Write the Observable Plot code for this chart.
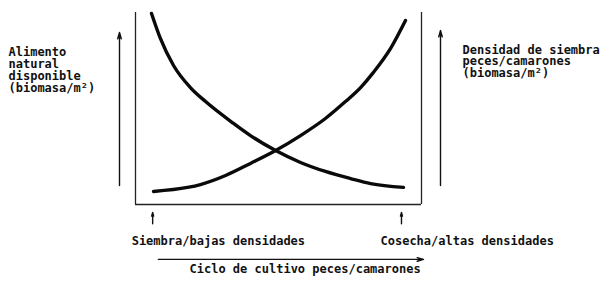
<!DOCTYPE html>
<html><head><meta charset="utf-8">
<script src="https://cdn.jsdelivr.net/npm/d3@7"></script>
<script src="https://cdn.jsdelivr.net/npm/@observablehq/plot@0.6"></script>
<style>
html,body{margin:0;padding:0;background:#fff;}
#chart svg{display:block;}
</style></head><body><div id="chart"></div>
<script>
// Natural food available (decreasing) along the culture cycle
const foodX = [5.6, 8.7, 13.3, 19.2, 24.5, 34.3, 40.2, 49.0, 57.7, 66.4, 75.2, 82.2, 93.7];
const foodY = [99.5, 86.5, 72.4, 60.9, 53.6, 42.2, 35.9, 28.1, 21.9, 17.2, 13.5, 10.9, 8.9];
// Stocking density of fish/shrimp (increasing)
const densX = [6.3, 18.2, 22.7, 31.5, 40.2, 49.0, 57.7, 66.4, 73.4, 78.7, 83.2, 89.2, 94.4];
const densY = [6.8, 8.9, 10.4, 15.1, 21.4, 28.1, 35.9, 44.8, 53.6, 60.9, 68.8, 81.3, 95.8];

const leftLabel = ["Alimento", "natural", "disponible", "(biomasa/m²)"];
const rightLabel = ["Densidad de siembra", "peces/camarones", "(biomasa/m²)"];
const stages = ["Siembra/bajas densidades", "Cosecha/altas densidades"];
const stageX = [6, 93];
const xLabel = "Ciclo de cultivo peces/camarones";

const food = foodX.map((x, i) => ({x, y: foodY[i]}));
const dens = densX.map((x, i) => ({x, y: densY[i]}));

const font = {fontFamily: "DejaVu Sans Mono", fontWeight: "bold", fontSize: 12, fill: "#111"};
const arrowStyle = {stroke: "#111", strokeWidth: 1.4, headLength: 7, headAngle: 32};

const chart = Plot.plot({
  width: 600,
  height: 292,
  marginLeft: 135,
  marginRight: 179,
  marginTop: 12,
  marginBottom: 88,
  x: {domain: [0, 100], axis: null},
  y: {domain: [0, 100], axis: null},
  style: {fontFamily: "DejaVu Sans Mono", background: "#fff"},
  marks: [
    Plot.ruleX([0, 100], {y1: 0, y2: 100, stroke: "#222", strokeWidth: 1.3}),
    Plot.ruleY([0], {x1: 0, x2: 100, stroke: "#222", strokeWidth: 1.3}),
    Plot.line(food, {x: "x", y: "y", curve: "monotone-x", stroke: "#0a0a0a", strokeWidth: 3.4, strokeLinecap: "round"}),
    Plot.line(dens, {x: "x", y: "y", curve: "monotone-x", stroke: "#0a0a0a", strokeWidth: 3.4, strokeLinecap: "round"}),
    // vertical axis arrows
    Plot.arrow([leftLabel], {x1: 0, x2: 0, y1: 9.9, y2: 89.6, dx: -16, ...arrowStyle}),
    Plot.arrow([rightLabel], {x1: 100, x2: 100, y1: 9.9, y2: 90.6, dx: 19, ...arrowStyle}),
    // stage arrows
    Plot.arrow(stageX, {x1: d => d, x2: d => d, y1: -10, y2: -4.2, ...arrowStyle, headLength: 5}),
    // cycle arrow
    Plot.arrow([xLabel], {x1: 8, x2: 100.7, y1: -28.6, y2: -28.6, ...arrowStyle}),
    // labels
    Plot.text([leftLabel.join("\n")], {text: d => d, frameAnchor: "top-left", dx: -127, dy: 57.5, textAnchor: "start", lineAnchor: "middle", lineHeight: 1.0, ...font}),
    Plot.text([rightLabel.join("\n")], {text: d => d, frameAnchor: "top-right", dx: 41, dy: 49, textAnchor: "start", lineAnchor: "middle", lineHeight: 0.95, ...font}),
    Plot.text(stages, {text: d => d, x: (d, i) => stageX[i], frameAnchor: "bottom", dy: 40, dx: -21, textAnchor: "start", ...font}),
    Plot.text([xLabel], {text: d => d, frameAnchor: "bottom-left", dx: 54, dy: 68, textAnchor: "start", ...font})
  ]
});
document.getElementById("chart").appendChild(chart);
</script>
</body></html>
